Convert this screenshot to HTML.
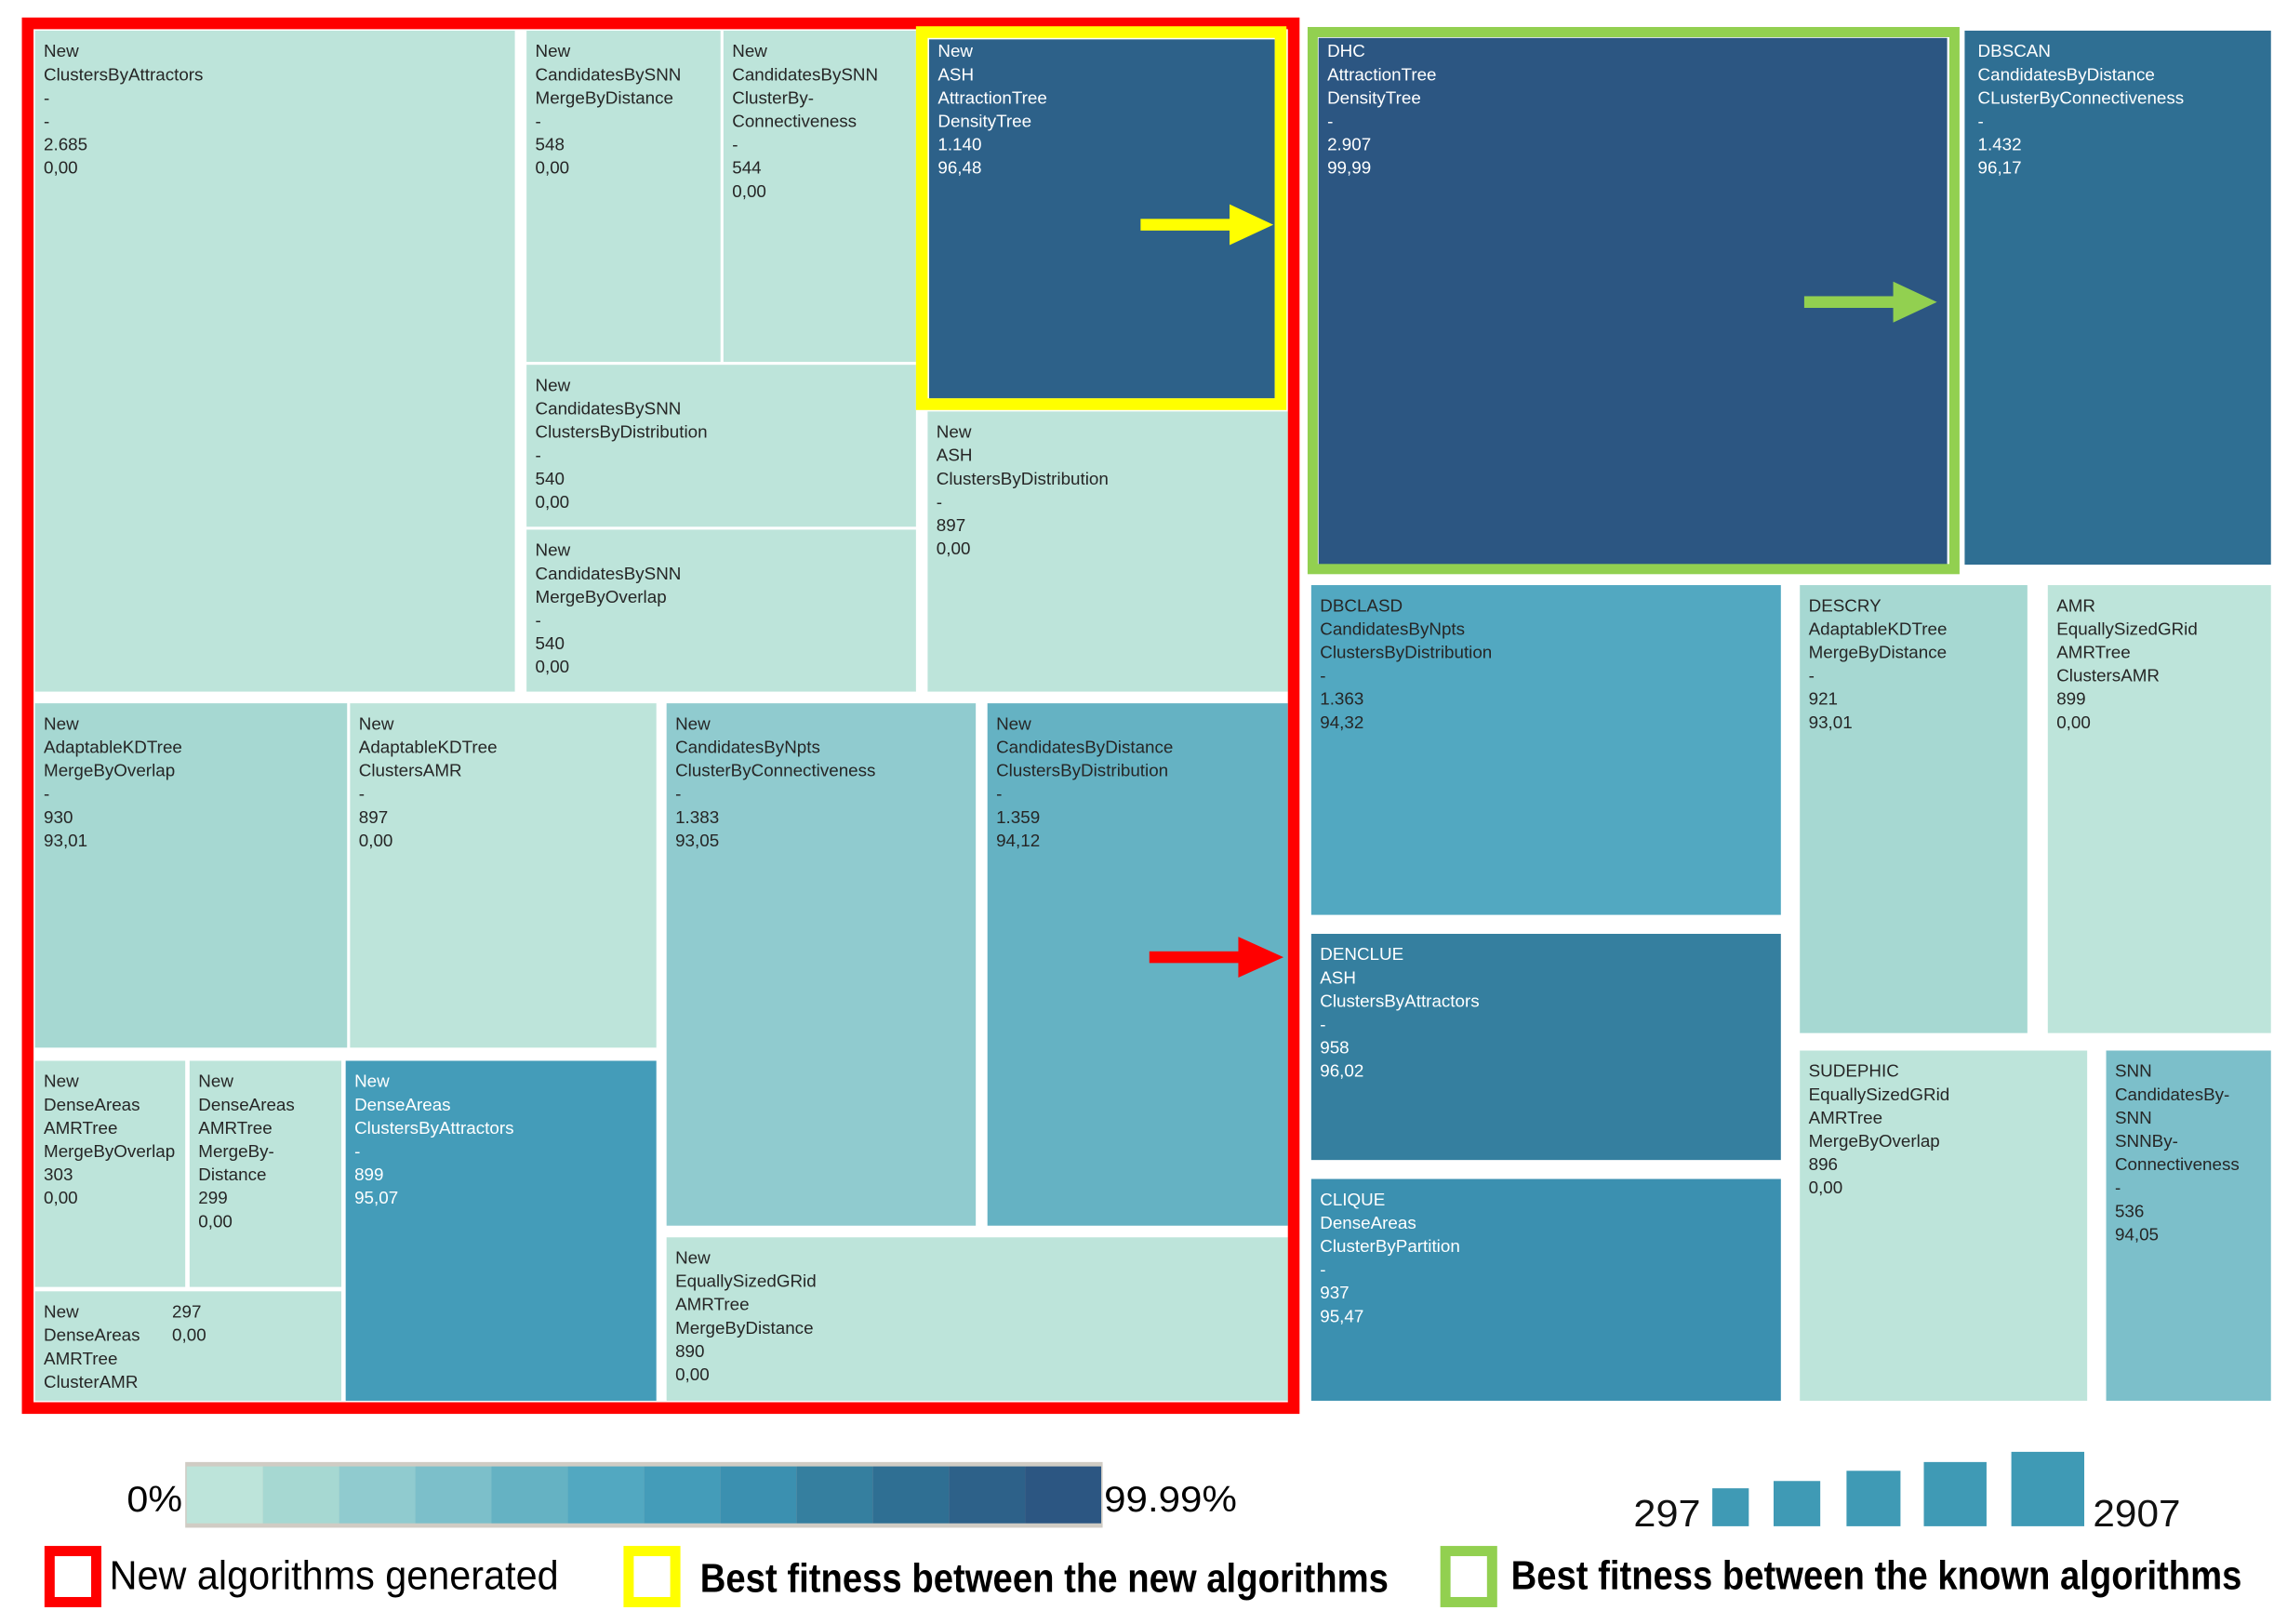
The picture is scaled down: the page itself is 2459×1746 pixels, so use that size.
<!DOCTYPE html>
<html><head><meta charset="utf-8"><style>
html,body{margin:0;padding:0;background:#fff;}
svg{display:block;}
text{font-family:"Liberation Sans",sans-serif;}
</style></head><body>
<svg id="chart" width="2459" height="1746" viewBox="0 0 1568 1113" preserveAspectRatio="none" xmlns="http://www.w3.org/2000/svg">
<rect x="0" y="0" width="1568" height="1113" fill="#fff"/>
<g id="cells"></g>
</svg>
<script>
// ---- data ----
const cellNames = [
 ["New","ClustersByAttractors","-","-"],
 ["New","CandidatesBySNN","MergeByDistance","-"],
 ["New","CandidatesBySNN","ClusterBy-","Connectiveness","-"],
 ["New","ASH","AttractionTree","DensityTree"],
 ["New","CandidatesBySNN","ClustersByDistribution","-"],
 ["New","CandidatesBySNN","MergeByOverlap","-"],
 ["New","ASH","ClustersByDistribution","-"],
 ["New","AdaptableKDTree","MergeByOverlap","-"],
 ["New","AdaptableKDTree","ClustersAMR","-"],
 ["New","CandidatesByNpts","ClusterByConnectiveness","-"],
 ["New","CandidatesByDistance","ClustersByDistribution","-"],
 ["New","DenseAreas","AMRTree","MergeByOverlap"],
 ["New","DenseAreas","AMRTree","MergeBy-","Distance"],
 ["New","DenseAreas","AMRTree","ClusterAMR"],
 ["New","DenseAreas","ClustersByAttractors","-"],
 ["New","EquallySizedGRid","AMRTree","MergeByDistance"],
 ["DHC","AttractionTree","DensityTree","-"],
 ["DBSCAN","CandidatesByDistance","CLusterByConnectiveness","-"],
 ["DBCLASD","CandidatesByNpts","ClustersByDistribution","-"],
 ["DENCLUE","ASH","ClustersByAttractors","-"],
 ["CLIQUE","DenseAreas","ClusterByPartition","-"],
 ["DESCRY","AdaptableKDTree","MergeByDistance","-"],
 ["AMR","EquallySizedGRid","AMRTree","ClustersAMR"],
 ["SUDEPHIC","EquallySizedGRid","AMRTree","MergeByOverlap"],
 ["SNN","CandidatesBy-","SNN","SNNBy-","Connectiveness","-"]
];
const cellSizes = ["2.685","548","544","1.140","540","540","897","930","897","1.383","1.359","303","299","297","899","890","2.907","1.432","1.363","958","937","921","899","896","536"];
const cellFitness = [0,0,0,96.48,0,0,0,93.01,0,93.05,94.12,0,0,0,95.07,0,99.99,96.17,94.32,96.02,95.47,93.01,0,0,94.05];
const fitnessThresholds = [0,93.0,93.03,94.0,94.1,94.2,95.0,95.3,95.9,96.1,96.3,99.0];
// ---- layout (treemap geometry, display units) ----
const layout = [
 [24,21,329,453],[361,21,133,227],[496,21,132,227],[637,27,237,246],[361,250,267,111],[361,363,267,111],[636,282,247,192],
 [24,482,214,236],[240,482,210,236],[457,482,212,358],[677,482,206,358],
 [24,727,103,155],[130,727,104,155],[24,885,210,75],[237,727,213,233],[457,848,426,112],
 [904,26,431,361],[1347,21,210,366],[899,401,322,226],[899,640,322,155],[899,808,322,152],[1234,401,156,307],[1404,401,153,307],[1234,720,197,240],[1444,720,113,240]
];
const textTop = [21,21,21,21,250,363,282,482,482,482,482,727,727,885,727,848,21,21,401,640,808,401,401,720,720];
const palette = ["#bde4da","#a6d8d2","#90cbcf","#7cbfca","#65b2c3","#52a8c1","#449cb9","#3b90b0","#357f9f","#2f6f93","#2d6189","#2c5682"];
function colorIdx(v){let i=0;for(let k=0;k<fitnessThresholds.length;k++){if(v>fitnessThresholds[k])i=k;}return v<=0?0:Math.max(1,i);}
const NS="http://www.w3.org/2000/svg";
function mk(tag,attrs,parent){const e=document.createElementNS(NS,tag);for(const k in attrs)e.setAttribute(k,attrs[k]);parent.appendChild(e);return e;}
const gc=document.getElementById('cells');
cellNames.forEach((lines,i)=>{
 const [x,y,w,h]=layout[i];
 const ci=colorIdx(cellFitness[i]);
 const g=mk('g',{},gc);
 
 
 const r=mk('rect',{x:x,y:y,width:w,height:h,fill:palette[ci]},g);
 
 
 const fill=ci>=6?"#ffffff":"#262626";
 const fit=cellFitness[i].toFixed(2).replace('.',',');
 let all=lines.concat([cellSizes[i],fit]);
 let lh=16; if(all.length>6) lh=Math.min(16,(h-20)/all.length); if(i===13){all=lines;}
 const tx0=(i===17)?x+9:x+6;
 all.forEach((t,j)=>{
  const tx=mk('text',{x:tx0,y:textTop[i]+18+j*lh,'font-size':12,fill:fill},g);
  
  
  tx.textContent=t;
 });
 if(i===13){
  const a=mk('text',{x:x+94,y:y+18,'font-size':12,fill:fill},g);
  
  
  a.textContent=cellSizes[i];
  const b=mk('text',{x:x+94,y:y+34,'font-size':12,fill:fill},g);
  
  
  b.textContent=fit;
 }
});
</script>
<svg style="position:absolute;left:0;top:0" width="2459" height="1746" viewBox="0 0 1568 1113" preserveAspectRatio="none" xmlns="http://www.w3.org/2000/svg">
<rect x="19" y="16" width="868" height="949" fill="none" stroke="#ff0000" stroke-width="8"/>
<rect x="632" y="22" width="246" height="255" fill="none" stroke="#ffff00" stroke-width="8"/>
<rect x="900" y="22" width="440" height="368" fill="none" stroke="#92d050" stroke-width="7"/>
<g><rect x="782" y="150" width="62" height="8" fill="#ffff00"/><polygon points="843,140 873,154 843,168" fill="#ffff00"/></g>
<g><rect x="1237" y="203" width="62" height="8" fill="#92d050"/><polygon points="1298,193 1328,207 1298,221" fill="#92d050"/></g>
<g><rect x="788" y="652" width="62" height="8" fill="#ff0000"/><polygon points="849,642 880,656 849,670" fill="#ff0000"/></g>
<g>
<rect x="127" y="1002" width="629" height="45" fill="#d0ccc4"/>
<rect x="128" y="1005" width="52.25" height="39" fill="#bde4da"/><rect x="180.25" y="1005" width="52.25" height="39" fill="#a6d8d2"/><rect x="232.5" y="1005" width="52.25" height="39" fill="#90cbcf"/><rect x="284.75" y="1005" width="52.25" height="39" fill="#7cbfca"/><rect x="337" y="1005" width="52.25" height="39" fill="#65b2c3"/><rect x="389.25" y="1005" width="52.25" height="39" fill="#52a8c1"/><rect x="441.5" y="1005" width="52.25" height="39" fill="#449cb9"/><rect x="493.75" y="1005" width="52.25" height="39" fill="#3b90b0"/><rect x="546" y="1005" width="52.25" height="39" fill="#357f9f"/><rect x="598.25" y="1005" width="52.25" height="39" fill="#2f6f93"/><rect x="650.5" y="1005" width="52.25" height="39" fill="#2d6189"/><rect x="702.75" y="1005" width="52.25" height="39" fill="#2c5682"/>
<text x="87" y="1036" font-size="25" textLength="38" lengthAdjust="spacingAndGlyphs">0%</text>
<text x="757" y="1036" font-size="25" textLength="91" lengthAdjust="spacingAndGlyphs">99.99%</text>
</g>
<g fill="#3f9ab5">
<rect x="1174" y="1020" width="25" height="26"/><rect x="1216" y="1015" width="32" height="31"/><rect x="1266" y="1008" width="37" height="38"/><rect x="1319" y="1002" width="43" height="44"/><rect x="1379" y="995" width="50" height="51"/>
<text x="1120" y="1046" font-size="26" fill="#111" textLength="46" lengthAdjust="spacingAndGlyphs">297</text>
<text x="1435" y="1046" font-size="26" fill="#111" textLength="60" lengthAdjust="spacingAndGlyphs">2907</text>
</g>
<g><rect x="34" y="1063" width="32" height="35" fill="#fff" stroke="#ff0000" stroke-width="7"/><text x="75" y="1089" font-size="28" textLength="308" lengthAdjust="spacingAndGlyphs">New algorithms generated</text></g>
<g><rect x="431" y="1063" width="32" height="35" fill="#fff" stroke="#ffff00" stroke-width="7"/><text x="480" y="1091" font-size="28" font-weight="bold" textLength="472" lengthAdjust="spacingAndGlyphs">Best fitness between the new algorithms</text></g>
<g><rect x="991" y="1063" width="32" height="35" fill="#fff" stroke="#92d050" stroke-width="7"/><text x="1036" y="1089" font-size="28" font-weight="bold" textLength="501" lengthAdjust="spacingAndGlyphs">Best fitness between the known algorithms</text></g>
</svg>
</body></html>
